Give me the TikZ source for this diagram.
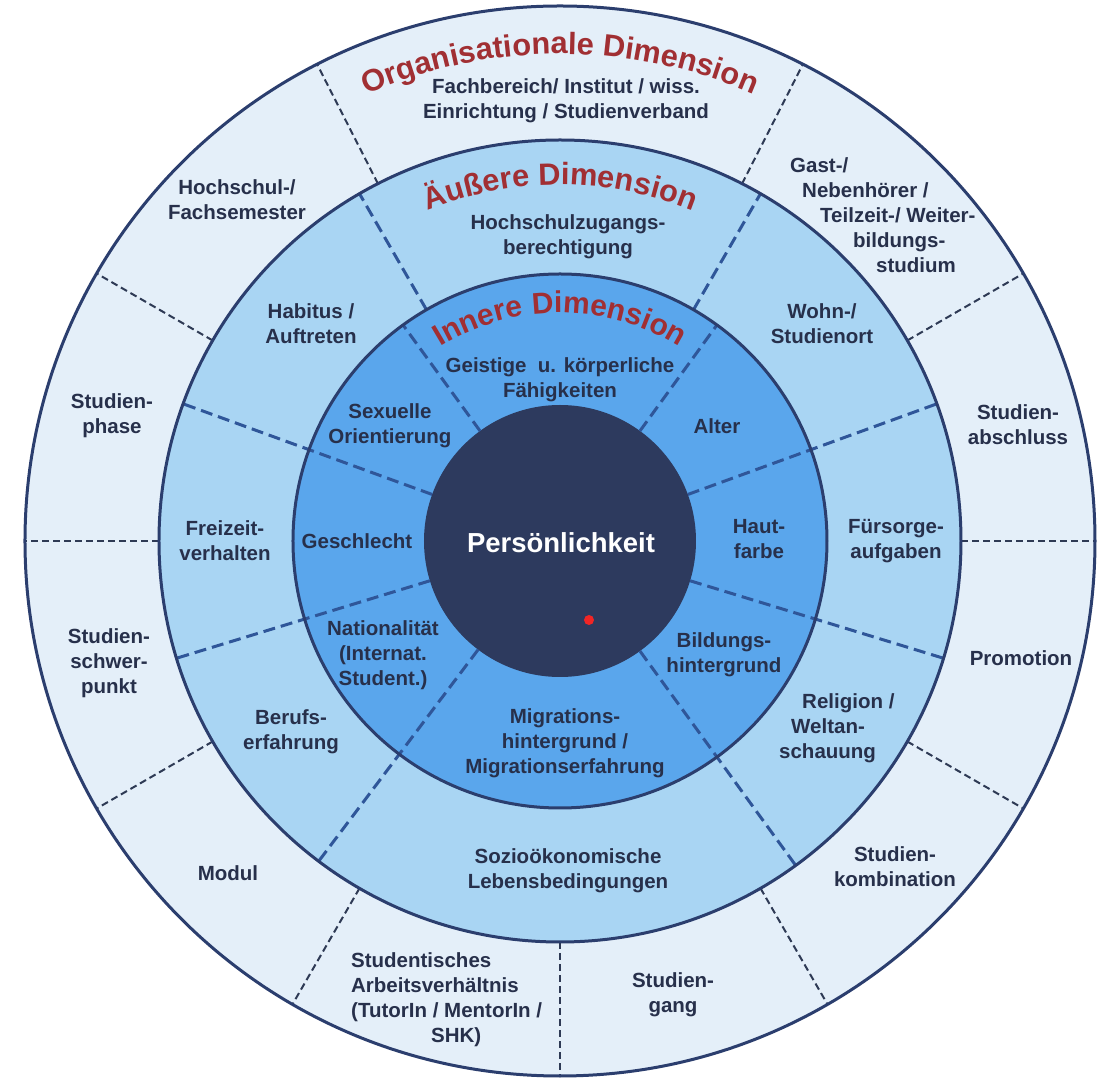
\documentclass[tikz,border=0pt]{standalone}
\usepackage{fontspec}
\setmainfont{Liberation Sans}
\usetikzlibrary{decorations.text}
\definecolor{ringO}{HTML}{E4EFF9}
\definecolor{ringA}{HTML}{A9D5F3}
\definecolor{ringI}{HTML}{5AA6EC}
\definecolor{core}{HTML}{2D3A5E}
\definecolor{border}{HTML}{2B3E6E}
\definecolor{odash}{HTML}{2E3A55}
\definecolor{idash}{HTML}{2F5699}
\definecolor{titlered}{HTML}{A12F33}
\definecolor{txt}{HTML}{27304B}
\definecolor{dotred}{HTML}{F02525}
\begin{document}
\begin{tikzpicture}[x=1pt,y=1pt,
  lbl/.style={font=\fontsize{20.5}{25}\selectfont\bfseries, text=txt, align=center, inner sep=0pt},
  lblleft/.style={lbl, align=left, anchor=west},
  outdash/.style={draw=odash, line width=2pt, dash pattern=on 7pt off 4pt},
  indash/.style={draw=idash, line width=3pt, dash pattern=on 12pt off 6pt},
  ringline/.style={draw=border, line width=3pt},
  dimtitle/.style 2 args={decorate, decoration={text along path, text align=center, text color=titlered, text={|\fontsize{#2}{#2}\selectfont\bfseries|#1}}}
]
\useasboundingbox (-560,-537) rectangle (541,541);
% rings
\fill[ringO] (0,0) circle (535);
\fill[ringA] (0,0) circle (401);
\fill[ringI] (0,0) circle (267);
\fill[core] (0,0) circle (136);
% dividers
\foreach \a in {0,30,63,117,150,180,210,240,270,300,330}
  \draw[outdash] (\a:401) -- (\a:535);
\foreach \a in {20,160,197,233,306,343}
  \draw[indash] (\a:136) -- (\a:401);
\foreach \a in {60,120}
  \draw[indash] (\a:267) -- (\a:401);
\foreach \a in {54,126}
  \draw[indash] (\a:136) -- (\a:267);
\draw[ringline] (0,0) circle (535) (0,0) circle (401) (0,0) circle (267);
% titles
\path[dimtitle={Organisationale Dimension}{30.8}] (140:487) arc[start angle=140, end angle=40, radius=487];
\path[dimtitle={Äußere Dimension}{30.8}] (130:356) arc[start angle=130, end angle=50, radius=356];
\path[dimtitle={Innere Dimension}{30}] (150:228) arc[start angle=150, end angle=30, radius=228];
% outer ring labels
\node[lbl] (fach) at (6,440) {Fachbereich/ Institut / wiss.\\Einrichtung / Studienverband};
\node[lbl] (hsem) at (-323,341) {Hochschul-/\\Fachsemester};
\node[lblleft] (gast) at (230,326) {Gast-/\\\hspace*{12pt}Nebenhörer /\\\hspace*{30pt}Teilzeit-/ Weiter-\\\hspace*{63pt}bildungs-\\\hspace*{86pt}studium};
\node[lbl] (sphase) at (-448,125) {Studien-\\phase};
\node[lbl] (sschw) at (-451,-122) {Studien-\\schwer-\\punkt};
\node[lbl] (sabschl) at (458,116) {Studien-\\abschluss};
\node[lbl] (promo) at (461,-117) {Promotion};
\node[lbl] (modul) at (-332,-332) {Modul};
\node[lbl] (skombi) at (335,-326) {Studien-\\kombination};
\node[lbl] (sgang) at (113,-454) {Studien-\\gang};
\node[lblleft] (sarb) at (-209,-459) {Studentisches\\Arbeitsverhältnis\\(TutorIn / MentorIn /\\\hspace*{80pt}SHK)};
% outer dimension labels
\node[lbl] (hzb) at (8,304) {Hochschulzugangs-\\berechtigung};
\node[lbl] (habitus) at (-249,217) {Habitus /\\Auftreten};
\node[lbl] (wohn) at (262,217) {Wohn-/\\Studienort};
\node[lbl] (freizeit) at (-335,0) {Freizeit-\\verhalten};
\node[lbl] (fuersorge) at (336,0) {Fürsorge-\\aufgaben};
\node[lbl] (berufs) at (-269,-191) {Berufs-\\erfahrung};
\node[lbl] (sozio) at (8,-330) {Sozioökonomische\\Lebensbedingungen};
\node[lblleft] (religion) at (219,-187) {\hspace*{23pt}Religion /\\\hspace*{12pt}Weltan-\\schauung};
% inner dimension labels
\node[lbl] (geistig) at (0,161) {Geistige\ \ u. körperliche\\Fähigkeiten};
\node[lbl] (sexuell) at (-170,115) {Sexuelle\\Orientierung};
\node[lbl] (geschl) at (-203,0) {Geschlecht};
\node[lbl] (nation) at (-177,-114) {Nationalität\\(Internat.\\Student.)};
\node[lbl] (migra) at (5,-202) {Migrations-\\hintergrund /\\Migrationserfahrung};
\node[lbl] (bildung) at (164,-114) {Bildungs-\\hintergrund};
\node[lbl] (haut) at (199,2) {Haut-\\farbe};
\node[lbl] (alter) at (157,115) {Alter};
% core
\node[font=\fontsize{27.5}{30}\selectfont\bfseries, text=white, inner sep=0pt] (pers) at (1,-2) {Persönlichkeit};
\node[circle, fill=dotred, minimum size=10pt, inner sep=0pt] (dot) at (29,-79) {};
\end{tikzpicture}
\end{document}
